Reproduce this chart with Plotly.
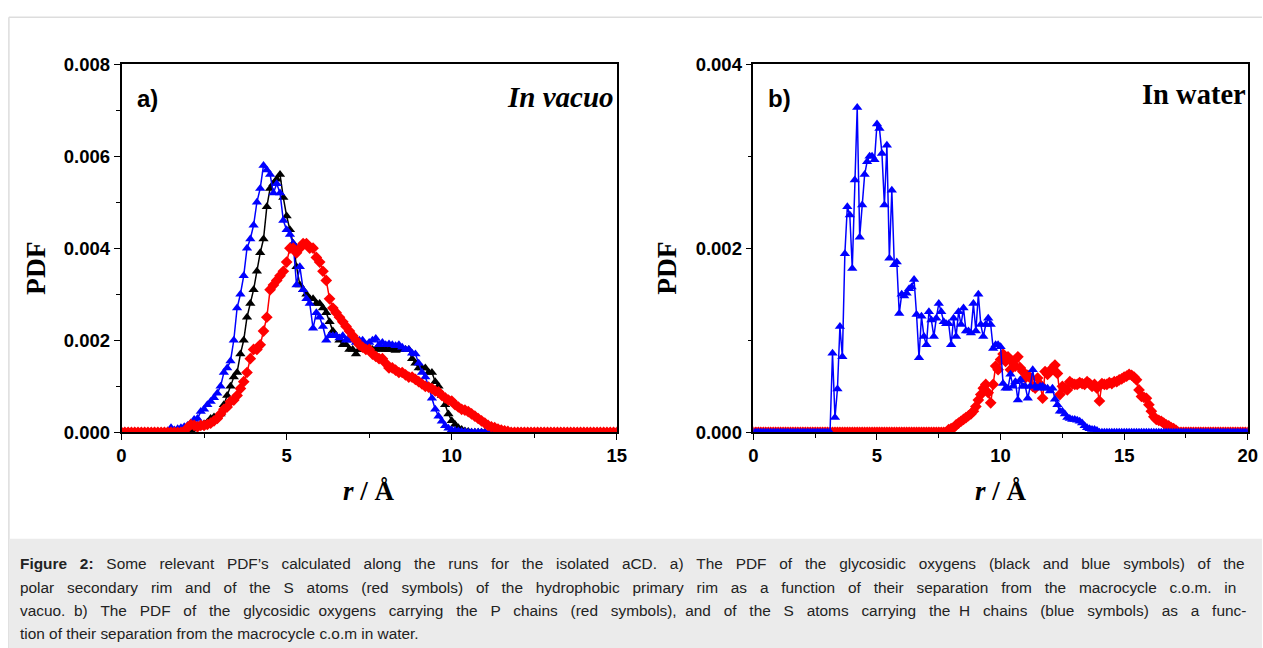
import numpy as np
import plotly.graph_objects as go

# ---------------- data ----------------
# Panel a (in vacuo): r grid 0.0 .. 15.0 step 0.1 (one row per Angstrom)
r_a = np.round(np.arange(0, 15.05, 0.1), 1)
pdf_a_black = [
    0, 0, 0, 0, 0, 0, 0, 0, 0, 0,
    0, 0, 0, 0, 0, 0, 0, 0, 0, 0,
    0.00003, 0.00005, 0.00008, 0.0001, 0.00013, 0.00018, 0.00022, 0.0003, 0.00033, 0.00035,
    0.0004, 0.0006, 0.0008, 0.001, 0.0012, 0.0013, 0.0017, 0.002, 0.0025, 0.0028,
    0.0031, 0.0035, 0.0039, 0.0042, 0.0049, 0.0053, 0.0054, 0.0055, 0.0056, 0.0051,
    0.0047, 0.0044, 0.0041, 0.0036, 0.0032, 0.0031, 0.003, 0.0029, 0.0029, 0.0028,
    0.0028, 0.0027, 0.0026, 0.0024, 0.0022, 0.0021, 0.002, 0.0019, 0.0019, 0.0018,
    0.0018, 0.0017, 0.0018, 0.0018, 0.0018, 0.00185, 0.0018, 0.0018, 0.00185, 0.0018,
    0.0018, 0.0018, 0.0018, 0.00178, 0.0018, 0.0018, 0.0018, 0.0018, 0.0016, 0.0015,
    0.0014, 0.0014, 0.0014, 0.0013, 0.0013, 0.0011, 0.001, 0.0008, 0.0006, 0.0004,
    0.00025, 0.00017, 0.0001, 0.00006, 0.00003, 0.00002, 0, 0, 0, 0,
    0, 0, 0, 0, 0, 0, 0, 0, 0, 0,
    0, 0, 0, 0, 0, 0, 0, 0, 0, 0,
    0, 0, 0, 0, 0, 0, 0, 0, 0, 0,
    0, 0, 0, 0, 0, 0, 0, 0, 0, 0,
    0,
]
pdf_a_blue = [
    0, 0, 0, 0, 0, 0, 0, 0, 0, 0,
    0, 0, 0, 0, 0.00003, 0.0001, 0.00005, 0.00008, 0.0001, 0.00012,
    0.00015, 0.0002, 0.00028, 0.0003, 0.00045, 0.0005, 0.0006, 0.00067, 0.00075, 0.00085,
    0.001, 0.0013, 0.0014, 0.00155, 0.002, 0.0027, 0.003, 0.0034, 0.004, 0.0042,
    0.0045, 0.005, 0.0053, 0.0058, 0.0057, 0.0056, 0.0052, 0.0054, 0.0052, 0.0046,
    0.0044, 0.0043, 0.0041, 0.0032, 0.0036, 0.0031, 0.0029, 0.0028, 0.00226, 0.0026,
    0.0025, 0.0023, 0.002, 0.0021, 0.0021, 0.0021, 0.00205, 0.0021, 0.002, 0.00205,
    0.002, 0.00195, 0.002, 0.002, 0.0019, 0.00195, 0.002, 0.00204, 0.0019, 0.00195,
    0.0019, 0.00192, 0.0019, 0.00188, 0.0019, 0.00185, 0.0018, 0.0018, 0.00172, 0.0017,
    0.0015, 0.0013, 0.0012, 0.001, 0.00074, 0.0005, 0.00035, 0.00024, 0.00014, 0.00009,
    0.00005, 0.00004, 0.00003, 0.00002, 0.00001, 0, 0, 0, 0, 0,
    0, 0, 0, 0, 0, 0, 0, 0, 0, 0,
    0, 0, 0, 0, 0, 0, 0, 0, 0, 0,
    0, 0, 0, 0, 0, 0, 0, 0, 0, 0,
    0, 0, 0, 0, 0, 0, 0, 0, 0, 0,
    0,
]
pdf_a_red = [
    0, 0, 0, 0, 0, 0, 0, 0, 0, 0,
    0, 0, 0, 0, 0, 0, 0, 0, 0, 0,
    0.0001, 0.00017, 0.00015, 0.00012, 0.00015, 0.00015, 0.00017, 0.0002, 0.00025, 0.0003,
    0.0004, 0.0005, 0.00055, 0.00067, 0.0007, 0.0008, 0.00095, 0.0011, 0.0013, 0.0016,
    0.0018, 0.0018, 0.0019, 0.0022, 0.0025, 0.0031, 0.0032, 0.0033, 0.0034, 0.0035,
    0.0037, 0.004, 0.004, 0.0039, 0.004, 0.0041, 0.0041, 0.004, 0.004, 0.0038,
    0.0037, 0.0035, 0.0033, 0.0029, 0.0027, 0.0026, 0.0025, 0.0024, 0.0023, 0.0022,
    0.0021, 0.002, 0.0019, 0.00185, 0.0018, 0.0018, 0.0017, 0.00165, 0.0016, 0.0016,
    0.0015, 0.0014, 0.0014, 0.00135, 0.0013, 0.0013, 0.00125, 0.0012, 0.0012, 0.00115,
    0.0011, 0.00105, 0.001, 0.00098, 0.00095, 0.0009, 0.00088, 0.0008, 0.00075, 0.0007,
    0.00068, 0.0006, 0.00055, 0.0005, 0.00048, 0.00045, 0.0004, 0.00035, 0.0003, 0.00025,
    0.0002, 0.00015, 0.00012, 0.0001, 0.00007, 0.00005, 0.00003, 0.00002, 0, 0,
    0, 0, 0, 0, 0, 0, 0, 0, 0, 0,
    0, 0, 0, 0, 0, 0, 0, 0, 0, 0,
    0, 0, 0, 0, 0, 0, 0, 0, 0, 0,
    0,
]

# Panel b (in water): r grid 0.0 .. 20.0 step 0.1
r_b = np.round(np.arange(0, 20.05, 0.1), 1)
pdf_b_red = [
    0, 0, 0, 0, 0, 0, 0, 0, 0, 0,
    0, 0, 0, 0, 0, 0, 0, 0, 0, 0,
    0, 0, 0, 0, 0, 0, 0, 0, 0, 0,
    0, 0, 0, 0, 0, 0, 0, 0, 0, 0,
    0, 0, 0, 0, 0, 0, 0, 0, 0, 0,
    0, 0, 0, 0, 0, 0, 0, 0, 0, 0,
    0, 0, 0, 0, 0, 0, 0, 0, 0, 0,
    0, 0, 0, 0, 0, 0, 0, 0, 0, 0.00003,
    0.00004, 0.00005, 0.00008, 0.0001, 0.00012, 0.00014, 0.00016, 0.00018, 0.0002, 0.00023,
    0.00028, 0.00035, 0.00041, 0.00048, 0.00052, 0.00043, 0.00032, 0.00052, 0.00072, 0.00068,
    0.00079, 0.00085, 0.00077, 0.00082, 0.00068, 0.00077, 0.00072, 0.00082, 0.0007, 0.00066,
    0.00059, 0.00062, 0.00059, 0.0005, 0.00048, 0.00059, 0.00052, 0.00037, 0.00066, 0.00063,
    0.00066, 0.0007, 0.00073, 0.00064, 0.00041, 0.0005, 0.00048, 0.00046, 0.00055, 0.00053,
    0.00052, 0.00052, 0.00054, 0.00053, 0.00052, 0.00055, 0.00053, 0.0005, 0.00052, 0.00048,
    0.00034, 0.00053, 0.00052, 0.00052, 0.00054, 0.00053, 0.00055, 0.00055, 0.00057, 0.00058,
    0.0006, 0.00061, 0.00063, 0.00062, 0.0006, 0.00057, 0.00046, 0.00039, 0.00038, 0.00037,
    0.0003, 0.00023, 0.00017, 0.00014, 0.00013, 0.00012, 0.0001, 0.00008, 0.00007, 0.00005,
    0.00004, 0.00002, 0, 0, 0, 0, 0, 0, 0, 0,
    0, 0, 0, 0, 0, 0, 0, 0, 0, 0,
    0, 0, 0, 0, 0, 0, 0, 0, 0, 0,
    0,
]
pdf_b_blue = [
    0, 0, 0, 0, 0, 0, 0, 0, 0, 0,
    0, 0, 0, 0, 0, 0, 0, 0, 0, 0,
    0, 0, 0, 0, 0, 0, 0, 0, 0, 0,
    0, 0, 0.00086, 0.00016, 0.00047, 0.00115, 0.00082, 0.00194, 0.00245, 0.00236,
    0.00178, 0.00274, 0.00353, 0.00212, 0.00247, 0.0028, 0.00294, 0.003, 0.003, 0.00296,
    0.00335, 0.0033, 0.00303, 0.00247, 0.00312, 0.00189, 0.00263, 0.00182, 0.00185, 0.00129,
    0.0015, 0.00148, 0.00151, 0.00156, 0.00158, 0.00166, 0.00128, 0.00081, 0.00126, 0.00104,
    0.00095, 0.00131, 0.00122, 0.00104, 0.00124, 0.0014, 0.00131, 0.0012, 0.00118, 0.00118,
    0.00095, 0.00124, 0.00104, 0.00131, 0.00117, 0.00135, 0.0011, 0.0011, 0.00108, 0.0014,
    0.0011, 0.0015, 0.00117, 0.00104, 0.00117, 0.00124, 0.00117, 0.00091, 0.00095, 0.00095,
    0.00093, 0.00053, 0.00048, 0.00048, 0.00063, 0.0005, 0.00055, 0.00035, 0.00057, 0.0005,
    0.0005, 0.00037, 0.0005, 0.00068, 0.0005, 0.00048, 0.0005, 0.0005, 0.00048, 0.00048,
    0.00045, 0.00048, 0.00036, 0.0003, 0.00023, 0.00023, 0.0002, 0.00016, 0.00015, 0.00014,
    0.00014, 0.00013, 0.00012, 0.0001, 0.00007, 0.00005, 0.00004, 0.00003, 0.00003, 0.00002,
    0, 0, 0, 0, 0, 0, 0, 0, 0, 0,
    0, 0, 0, 0, 0, 0, 0, 0, 0, 0,
    0, 0, 0, 0, 0, 0, 0, 0, 0, 0,
    0, 0, 0, 0, 0, 0, 0, 0, 0, 0,
    0, 0, 0, 0, 0, 0, 0, 0, 0, 0,
    0, 0, 0, 0, 0, 0, 0, 0, 0, 0,
    0,
]

caption_lines = [
    "Figure 2: Some relevant PDF’s calculated along the runs for the isolated aCD. a) The PDF of the glycosidic oxygens (black and blue symbols) of the",
    "polar secondary rim and of the S atoms (red symbols) of the hydrophobic primary rim as a function of their separation from the macrocycle c.o.m. in",
    "vacuo. b) The PDF of the glycosidic oxygens carrying the P chains (red symbols), and of the S atoms carrying the H chains (blue symbols) as a func-",
    "tion of their separation from the macrocycle c.o.m in water.",
]
# extra non-breaking spaces used to justify each caption line (last line unjustified)
caption_extra_spaces = [50, 50, 50, 0]

# ---------------- figure ----------------
# The figure sits at the page origin (body margin removed); the photographed picture maps page
# pixel p to picture pixel (AX + SX*p, AY + SY*p).  Positions below are given in picture pixels.
AX, SX = 3.1, 0.9915
AY, SY = 7.6, 0.973
W, H = 1272, 660
def px(x):
    return ((x - AX) / SX) / W
def py(y):
    return 1 - ((y - AY) / SY) / H

def justify(line, extra):
    words = line.split(" ")
    gaps = len(words) - 1
    out = words[0]
    for i, w in enumerate(words[1:]):
        k = extra * (i + 1) // gaps - extra * i // gaps
        out += " " + "\u00a0" * k + w
    return out

fig = go.Figure()

def add_series(x, y, color, symbol, size, xa, ya):
    fig.add_trace(go.Scatter(
        x=x, y=y, mode="lines+markers", xaxis=xa, yaxis=ya,
        line=dict(color=color, width=1.5),
        marker=dict(symbol=symbol, size=size, color=color, line=dict(width=0)),
        showlegend=False, hoverinfo="skip",
    ))

add_series(r_a, pdf_a_black, "#000000", "triangle-up", 9, "x", "y")
add_series(r_a, pdf_a_blue, "#0000ff", "triangle-up", 9, "x", "y")
add_series(r_a, pdf_a_red, "#ff0000", "diamond", 9, "x", "y")
add_series(r_b, pdf_b_red, "#ff0000", "diamond", 9, "x2", "y2")
add_series(r_b, pdf_b_blue, "#0000ff", "triangle-up", 9, "x2", "y2")

sans = "Liberation Sans, Arial, sans-serif"
serif = "Liberation Serif, Times New Roman, serif"
tickfont = dict(family=sans, size=18.5, color="black", weight="bold")
common_x = dict(showgrid=False, zeroline=False, showline=True, linecolor="black", linewidth=1.5,
                mirror=True, ticks="outside", ticklen=6, tickwidth=1.3, tickcolor="black",
                tickfont=tickfont, dtick=5, tick0=0,
                minor=dict(ticks="outside", ticklen=4, dtick=2.5, tickcolor="black", tickwidth=1.3))
common_y = dict(showgrid=False, zeroline=False, showline=True, linecolor="black", linewidth=1.5,
                mirror=True, ticks="outside", ticklen=6, tickwidth=1.3, tickcolor="black",
                tickfont=tickfont, dtick=0.002, tick0=0, tickformat=".3f",
                minor=dict(ticks="outside", ticklen=4, dtick=0.001, tickcolor="black", tickwidth=1.3))

ydom = [py(431), py(61)]
fig.update_layout(
    width=W, height=H,
    margin=dict(l=0, r=0, t=0, b=0),
    paper_bgcolor="white", plot_bgcolor="white",
    xaxis=dict(domain=[px(120), px(617)], range=[0, 15], anchor="y", **common_x),
    yaxis=dict(domain=ydom, range=[0, 0.008], anchor="x", **common_y),
    xaxis2=dict(domain=[px(754), px(1250)], range=[0, 20], anchor="y2", **common_x),
    yaxis2=dict(domain=ydom, range=[0, 0.004], anchor="x2", **common_y),
)

shapes = [
    dict(type="line", xref="paper", yref="paper", x0=px(7), x1=1, y0=py(14), y1=py(14),
         line=dict(color="#dddddd", width=1.5), layer="below"),
    dict(type="line", xref="paper", yref="paper", x0=px(7), x1=px(7), y0=0, y1=py(14),
         line=dict(color="#dddddd", width=1.5), layer="below"),
    dict(type="rect", xref="paper", yref="paper", x0=px(7.5), x1=1, y0=0, y1=py(538),
         line=dict(width=0), fillcolor="#ebebeb", layer="below"),
]
fig.update_layout(shapes=shapes)

ann = []
for xc in (33, 666):
    ann.append(dict(text="<b>PDF</b>", xref="paper", yref="paper", x=px(xc), y=py(266),
                    showarrow=False, textangle=-90, font=dict(family=serif, size=27.5, color="black"),
                    xanchor="center", yanchor="middle"))
for xc in (368, 1002):
    ann.append(dict(text="<b><i>r</i> / Å</b>", xref="paper", yref="paper", x=px(xc), y=py(490),
                    showarrow=False, font=dict(family=serif, size=27, color="black"),
                    xanchor="center", yanchor="middle"))
ann.append(dict(text="<b>a)</b>", xref="paper", yref="paper", x=px(134), y=py(96), showarrow=False,
                font=dict(family=sans, size=24, color="black"), xanchor="left", yanchor="middle"))
ann.append(dict(text="<b>b)</b>", xref="paper", yref="paper", x=px(767), y=py(96), showarrow=False,
                font=dict(family=sans, size=24, color="black"), xanchor="left", yanchor="middle"))
ann.append(dict(text="<b><i>In vacuo</i></b>", xref="paper", yref="paper", x=px(616), y=py(94),
                showarrow=False, font=dict(family=serif, size=29, color="black"),
                xanchor="right", yanchor="middle"))
ann.append(dict(text="<b>In water</b>", xref="paper", yref="paper", x=px(1250), y=py(92),
                showarrow=False, font=dict(family=serif, size=28.5, color="black"),
                xanchor="right", yanchor="middle"))
for i, (line, extra, yc) in enumerate(zip(caption_lines, caption_extra_spaces, (563, 587, 610, 633))):
    txt = justify(line, extra)
    if i == 0:
        head, rest = txt.split("2:", 1)
        txt = "<b>" + head + "2:</b>" + rest
    ann.append(dict(text=txt, xref="paper", yref="paper", x=px(16), y=py(yc), showarrow=False,
                    font=dict(family=sans, size=15.4, color="#222222"), xanchor="left", yanchor="middle"))
fig.update_layout(annotations=ann)

fig.write_html("out.html", config={"displayModeBar": False},
               post_script="document.body.style.margin='0px';")
